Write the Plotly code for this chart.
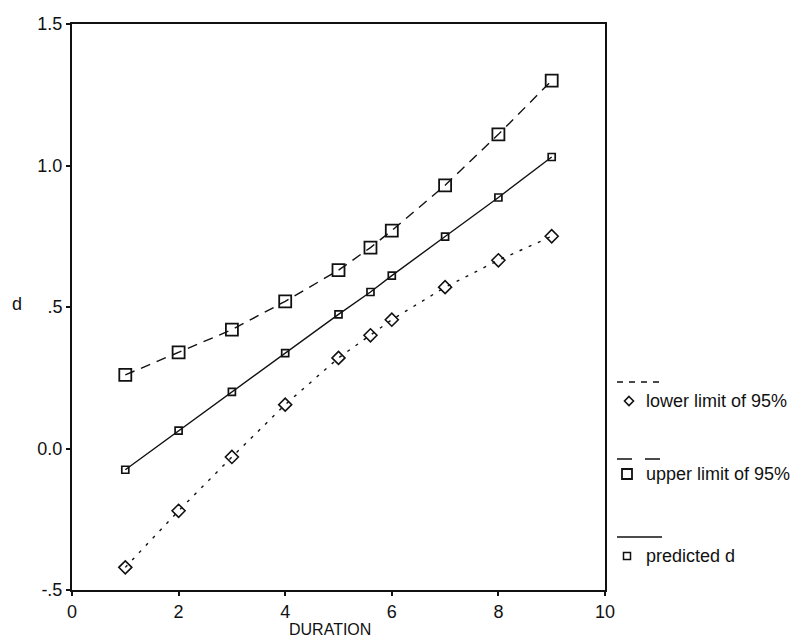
import plotly.graph_objects as go

# ---- data ----
duration = [1, 2, 3, 4, 5, 5.6, 6, 7, 8, 9]
lower_limit = [-0.42, -0.22, -0.03, 0.155, 0.32, 0.40, 0.455, 0.57, 0.665, 0.75]
upper_limit = [0.26, 0.34, 0.42, 0.52, 0.63, 0.71, 0.77, 0.93, 1.11, 1.30]
predicted = [-0.075, 0.063, 0.20, 0.337, 0.474, 0.553, 0.611, 0.749, 0.887, 1.03]

x_ticks = [0, 2, 4, 6, 8, 10]
x_ticktext = ["0", "2", "4", "6", "8", "10"]
y_ticks = [-0.5, 0.0, 0.5, 1.0, 1.5]
y_ticktext = ["-.5", "0.0", ".5", "1.0", "1.5"]

legend_labels = ["lower limit of 95%", "upper limit of 95%", "predicted d"]

# ---- layout geometry ----
W, H = 802, 641
L, R, T, B = 72, 197, 24, 51
PW, PH = W - L - R, H - T - B
FONT = "Liberation Sans, Arial, sans-serif"
INK = "#111111"


def px(x):
    return (x - L) / PW


def py(y):
    return (H - B - y) / PH


fig = go.Figure()
fig.add_trace(go.Scatter(
    x=duration, y=lower_limit, mode="lines+markers", name=legend_labels[0],
    line=dict(color=INK, width=1.4, dash="3px,7px"),
    marker=dict(symbol="diamond-open", size=10, color=INK, line=dict(width=1.6, color=INK)),
))
fig.add_trace(go.Scatter(
    x=duration, y=upper_limit, mode="lines+markers", name=legend_labels[1],
    line=dict(color=INK, width=1.4, dash="10px,7px"),
    marker=dict(symbol="square-open", size=12, color=INK, line=dict(width=1.8, color=INK)),
))
fig.add_trace(go.Scatter(
    x=duration, y=predicted, mode="lines+markers", name=legend_labels[2],
    line=dict(color=INK, width=1.4),
    marker=dict(symbol="square-open", size=7, color=INK, line=dict(width=1.7, color=INK)),
))

# ---- hand-made legend (line above, marker + label below) ----
shapes = []
annotations = []
leg_line_y = [382, 459, 537]
leg_text_y = [401, 474, 556]
leg_dash = ["6px,6px", "15px,13px", "solid"]
for i in range(3):
    shapes.append(dict(type="line", xref="paper", yref="paper",
                       x0=px(617), x1=px(662), y0=py(leg_line_y[i]), y1=py(leg_line_y[i]),
                       line=dict(color=INK, width=1.4, dash=leg_dash[i])))
    annotations.append(dict(xref="paper", yref="paper", x=px(644), y=py(leg_text_y[i]),
                            xanchor="left", yanchor="middle", showarrow=False,
                            text=legend_labels[i], font=dict(family=FONT, size=18, color=INK)))
# legend symbols
cx, cy = 629, leg_text_y[0]
shapes.append(dict(type="path", xref="paper", yref="paper",
                   path=f"M {px(cx)},{py(cy-4.5)} L {px(cx+4.5)},{py(cy)} L {px(cx)},{py(cy+4.5)} L {px(cx-4.5)},{py(cy)} Z",
                   line=dict(color=INK, width=1.6)))
cx, cy = 627, leg_text_y[1]
shapes.append(dict(type="rect", xref="paper", yref="paper",
                   x0=px(cx-5), x1=px(cx+5), y0=py(cy+5), y1=py(cy-5),
                   line=dict(color=INK, width=1.8)))
cx, cy = 627, leg_text_y[2]
shapes.append(dict(type="rect", xref="paper", yref="paper",
                   x0=px(cx-3.5), x1=px(cx+3.5), y0=py(cy+3.5), y1=py(cy-3.5),
                   line=dict(color=INK, width=1.5)))

# axis titles
annotations.append(dict(xref="paper", yref="paper", x=px(17), y=py(304),
                        xanchor="center", yanchor="middle", showarrow=False,
                        text="d", font=dict(family=FONT, size=18, color=INK)))
annotations.append(dict(xref="paper", yref="paper", x=px(330), y=py(629),
                        xanchor="center", yanchor="middle", showarrow=False,
                        text="DURATION", font=dict(family=FONT, size=16, color=INK)))

fig.update_layout(
    width=W, height=H,
    margin=dict(l=L, r=R, t=T, b=B, pad=0),
    paper_bgcolor="white", plot_bgcolor="white",
    showlegend=False,
    font=dict(family=FONT, size=18, color=INK),
    shapes=shapes, annotations=annotations,
    xaxis=dict(range=[0, 10], tickvals=x_ticks, ticktext=x_ticktext,
               showgrid=False, zeroline=False, showline=True, linecolor=INK, linewidth=2,
               mirror=True, ticks="outside", ticklen=4, tickwidth=2, tickcolor=INK,
               tickfont=dict(family=FONT, size=18, color=INK)),
    yaxis=dict(range=[-0.5, 1.5], tickvals=y_ticks, ticktext=y_ticktext,
               showgrid=False, zeroline=False, showline=True, linecolor=INK, linewidth=2,
               mirror=True, ticks="outside", ticklen=4, tickwidth=2, tickcolor=INK,
               tickfont=dict(family=FONT, size=18, color=INK)),
)

fig.write_html("out.html",
               config={"displayModeBar": False},
               post_script="document.body.style.margin='0';document.body.style.overflow='hidden';")
